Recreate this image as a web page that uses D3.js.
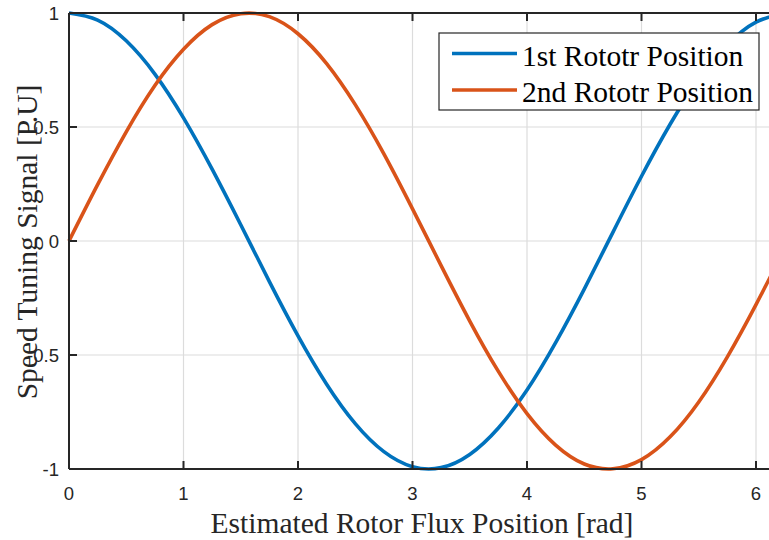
<!DOCTYPE html>
<html>
<head>
<meta charset="utf-8">
<style>
  body { margin: 0; background: #fff; }
  svg { display: block; }
</style>
</head>
<body>
<svg id="chart" width="769" height="540"></svg>
<script src="https://d3js.org/d3.v7.min.js"></script>
<script>
// values
const xs = [0, 0.25, 0.5, 0.75, 1.0, 1.25, 1.5, 1.75, 2.0, 2.25, 2.5, 2.75, 3.0,
            3.25, 3.5, 3.75, 4.0, 4.25, 4.5, 4.75, 5.0, 5.25, 5.5, 5.75, 6.0, 6.25];
const firstRotor = [1.000, 0.969, 0.878, 0.732, 0.540, 0.315, 0.071, -0.178, -0.416, -0.628, -0.801, -0.924, -0.990,
                    -0.994, -0.936, -0.820, -0.654, -0.446, -0.211, 0.038, 0.284, 0.512, 0.709, 0.861, 0.960, 0.999];
const secondRotor = [0.000, 0.247, 0.479, 0.682, 0.841, 0.949, 0.997, 0.984, 0.909, 0.778, 0.598, 0.382, 0.141,
                     -0.108, -0.351, -0.572, -0.757, -0.895, -0.978, -0.999, -0.959, -0.859, -0.706, -0.508, -0.279, -0.033];
const seriesNames = ["1st Rototr Position", "2nd Rototr Position"];
const seriesColors = ["#0072BD", "#D95319"];
const xTicks = [0, 1, 2, 3, 4, 5, 6];
const yTicks = [-1, -0.5, 0, 0.5, 1];

const svg = d3.select("#chart");
const plotLeft = 69, plotTop = 13, plotBottom = 469;
const xMax = 6.2832;

const x = d3.scaleLinear().domain([0, xMax]).range([plotLeft, plotLeft + xMax * 114.5]);
const y = d3.scaleLinear().domain([-1, 1]).range([plotBottom, plotTop]);

const axisColor = "#262626";
const tickFont = "'Liberation Sans', Arial, sans-serif";
const serif = "'Liberation Serif', 'Times New Roman', serif";

// grid
const grid = svg.append("g");
grid.selectAll(".vg").data(xTicks.filter(d => d > 0)).enter().append("line")
    .attr("x1", d => x(d)).attr("x2", d => x(d))
    .attr("y1", plotTop).attr("y2", plotBottom)
    .attr("stroke", "#dcdcdc").attr("stroke-width", 1.2);
grid.selectAll(".hg").data(yTicks.filter(d => d > -1 && d < 1)).enter().append("line")
    .attr("x1", plotLeft).attr("x2", x(xMax))
    .attr("y1", d => y(d)).attr("y2", d => y(d))
    .attr("stroke", "#dcdcdc").attr("stroke-width", 1.2);

// lines
const line = d3.line().x(d => x(d[0])).y(d => y(d[1])).curve(d3.curveNatural);
[firstRotor, secondRotor].forEach((vals, i) => {
    svg.append("path")
       .datum(xs.map((v, j) => [v, vals[j]]))
       .attr("d", line)
       .attr("fill", "none")
       .attr("stroke", seriesColors[i])
       .attr("stroke-width", 3.6)
       .attr("stroke-linejoin", "round");
});

// axes box (left, bottom, top)
const ax = svg.append("g").attr("stroke", axisColor).attr("stroke-width", 2);
ax.append("line").attr("x1", plotLeft).attr("x2", plotLeft).attr("y1", plotTop).attr("y2", plotBottom);
ax.append("line").attr("x1", plotLeft).attr("x2", x(xMax)).attr("y1", plotBottom).attr("y2", plotBottom);
ax.append("line").attr("x1", plotLeft).attr("x2", x(xMax)).attr("y1", plotTop).attr("y2", plotTop);

// inward ticks
xTicks.forEach(t => {
    ax.append("line").attr("x1", x(t)).attr("x2", x(t)).attr("y1", plotBottom).attr("y2", plotBottom - 8);
    ax.append("line").attr("x1", x(t)).attr("x2", x(t)).attr("y1", plotTop).attr("y2", plotTop + 8);
});
yTicks.forEach(t => {
    ax.append("line").attr("x1", plotLeft).attr("x2", plotLeft + 8).attr("y1", y(t)).attr("y2", y(t));
});

// tick labels
svg.selectAll(".xt").data(xTicks).enter().append("text")
   .attr("x", d => x(d)).attr("y", 500)
   .attr("text-anchor", "middle")
   .attr("font-family", tickFont).attr("font-size", 18.5).attr("fill", axisColor)
   .text(d => d);
svg.selectAll(".yt").data(yTicks).enter().append("text")
   .attr("x", 59).attr("y", d => y(d))
   .attr("dy", "0.36em")
   .attr("text-anchor", "end")
   .attr("font-family", tickFont).attr("font-size", 18.5).attr("fill", axisColor)
   .text(d => d);

// axis titles
svg.append("text")
   .attr("x", 422).attr("y", 533)
   .attr("text-anchor", "middle")
   .attr("font-family", serif).attr("font-size", 29.5).attr("fill", axisColor)
   .text("Estimated Rotor Flux Position [rad]");
svg.append("text")
   .attr("transform", "translate(37,242) rotate(-90)")
   .attr("text-anchor", "middle")
   .attr("font-family", serif).attr("font-size", 29.5).attr("fill", axisColor)
   .text("Speed Tuning Signal [P.U]");

// legend
const lg = svg.append("g");
lg.append("rect")
  .attr("x", 439).attr("y", 33).attr("width", 320).attr("height", 77)
  .attr("fill", "#fff").attr("stroke", axisColor).attr("stroke-width", 1.2);
seriesNames.forEach((name, i) => {
    const ly = 53.5 + i * 36.5;
    lg.append("line")
      .attr("x1", 452).attr("x2", 517).attr("y1", ly).attr("y2", ly)
      .attr("stroke", seriesColors[i]).attr("stroke-width", 3.6);
    lg.append("text")
      .attr("x", 522).attr("y", ly + 12.3)
      .attr("font-family", serif).attr("font-size", 29.5).attr("fill", "#000")
      .text(name);
});
</script>
</body>
</html>
